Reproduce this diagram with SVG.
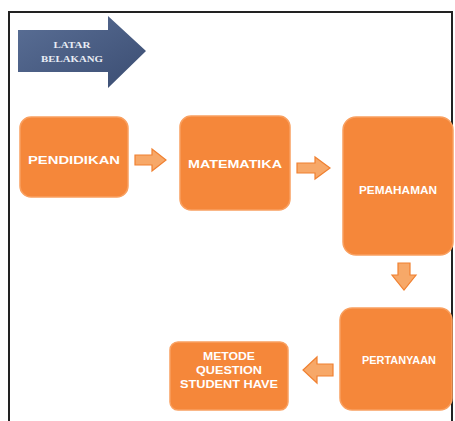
<svg xmlns="http://www.w3.org/2000/svg" width="455" height="421" viewBox="0 0 455 421">
<defs>
<linearGradient id="blue" x1="0" y1="0" x2="1" y2="1">
<stop offset="0" stop-color="#5a6f96"/>
<stop offset="1" stop-color="#3b4d72"/>
</linearGradient>
<style>
.box{fill:#f5873a;stroke:#f9a060;stroke-width:1.5}
.t{font-family:"Liberation Sans",Arial,sans-serif;font-weight:bold;font-size:10px;fill:#ffffff;text-anchor:middle}
.s{font-family:"Liberation Serif","Times New Roman",serif;font-weight:bold;font-size:9px;fill:#e8ecf4;text-anchor:middle}
.arr{fill:#f7a868;stroke:#f08030;stroke-width:1.2}
</style>
</defs>
<rect width="455" height="421" fill="#ffffff"/>
<path d="M9 421 V12 H452 V421" fill="none" stroke="#222" stroke-width="2"/>
<g id="latar">
<path d="M18 30 H108 V16 L146 51 L108 88 V72 H18 Z" fill="url(#blue)"/>
<text class="s" x="72" y="48" textLength="37" lengthAdjust="spacingAndGlyphs">LATAR</text>
<text class="s" x="72" y="62" textLength="62" lengthAdjust="spacingAndGlyphs">BELAKANG</text>
</g>
<g id="pendidikan">
<rect class="box" x="20" y="117" width="108" height="80" rx="11"/>
<text class="t" x="74" y="164" textLength="92" lengthAdjust="spacingAndGlyphs">PENDIDIKAN</text>
</g>
<g id="matematika">
<rect class="box" x="180" y="116" width="110" height="94" rx="11"/>
<text class="t" x="235" y="168" textLength="94" lengthAdjust="spacingAndGlyphs">MATEMATIKA</text>
</g>
<g id="pemahaman">
<rect class="box" x="343" y="117" width="110" height="138" rx="13"/>
<text class="t" x="398" y="194" textLength="78" lengthAdjust="spacingAndGlyphs">PEMAHAMAN</text>
</g>
<g id="pertanyaan">
<rect class="box" x="340" y="308" width="112" height="102" rx="12"/>
<text class="t" x="399" y="364" textLength="74" lengthAdjust="spacingAndGlyphs">PERTANYAAN</text>
</g>
<g id="metode">
<rect class="box" x="170" y="342" width="118" height="68" rx="8"/>
<text class="t" x="229" y="360" textLength="52" lengthAdjust="spacingAndGlyphs">METODE</text>
<text class="t" x="229" y="374" textLength="66" lengthAdjust="spacingAndGlyphs">QUESTION</text>
<text class="t" x="229" y="388" textLength="98" lengthAdjust="spacingAndGlyphs">STUDENT HAVE</text>
</g>
<g id="connectors">
<path class="arr" d="M135 155 H152 V149 L166 160 L152 171 V165 H135 Z"/>
<path class="arr" d="M297 163 H315 V157 L330 168 L315 179 V173 H297 Z"/>
<path class="arr" d="M398 263 H410 V275 H416 L404 290 L392 275 H398 Z"/>
<path class="arr" d="M333 364 H317 V357 L303 370 L317 383 V376 H333 Z"/>
</g>
</svg>
